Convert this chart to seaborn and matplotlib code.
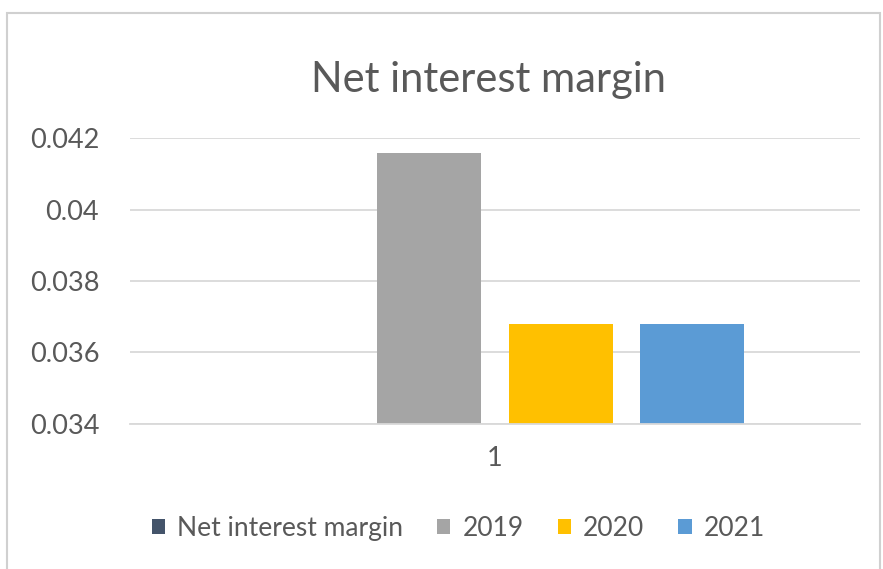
import pandas as pd
import numpy as np
import matplotlib.pyplot as plt
import matplotlib as mpl
import seaborn as sns

sns.set_style("white")
plt.rcParams['font.family'] = ['Lato', 'DejaVu Sans']

categories = ['1']
series = ['Net interest margin', '2019', '2020', '2021']
values = [0.0, 0.04158, 0.03681, 0.03681]
colors = ['#44546A', '#A5A5A5', '#FFC000', '#5B9BD5']
yticks = [0.034, 0.036, 0.038, 0.04, 0.042]
ytick_labels = ['0.034', '0.036', '0.038', '0.04', '0.042']

df = pd.DataFrame({
    'category': categories * len(series),
    'series': series,
    'value': values,
})

text_col = '#595959'
grid_col = '#D9D9D9'

fig = plt.figure(figsize=(8.83, 5.69), dpi=100)
ax = fig.add_axes([0.147, 0.255, 0.827, 0.502])

sns.barplot(data=df, x='category', y='value', hue='series', hue_order=series,
            palette=colors, width=0.72, gap=0.21, saturation=1, ax=ax,
            edgecolor='none', linewidth=0)

ax.set_ylim(0.034, 0.042)
ax.set_xlim(-0.5, 0.5)
ax.set_yticks(yticks)
ax.set_yticklabels(ytick_labels)
ax.yaxis.grid(True, color=grid_col, linewidth=1.3)
ax.set_axisbelow(True)
for s in ['top', 'right', 'left']:
    ax.spines[s].set_visible(False)
ax.spines['bottom'].set_color(grid_col)
ax.spines['bottom'].set_linewidth(1.3)
ax.tick_params(axis='both', length=0, labelsize=19.5, labelcolor=text_col)
ax.tick_params(axis='y', pad=22)
ax.tick_params(axis='x', pad=16)
ax.set_xlabel('')
ax.set_ylabel('')

fig.text(0.553, 0.86, 'Net interest margin', ha='center', va='center',
         fontsize=30, color=text_col)

handles, labels = ax.get_legend_handles_labels()
ax.legend(handles, labels, loc='center', bbox_to_anchor=(0.519, 0.072),
          bbox_transform=fig.transFigure, ncol=4, frameon=False,
          fontsize=19, labelcolor=text_col, handlelength=0.5, handleheight=0.5,
          handletextpad=0.45, columnspacing=1.3)

# chart area border
border = mpl.patches.Rectangle((0.008, -0.01), 0.989, 0.987, transform=fig.transFigure,
                               fill=False, edgecolor='#D0D0D0', linewidth=1.5)
fig.add_artist(border)

fig.savefig('out.png', dpi=100, facecolor='white')
